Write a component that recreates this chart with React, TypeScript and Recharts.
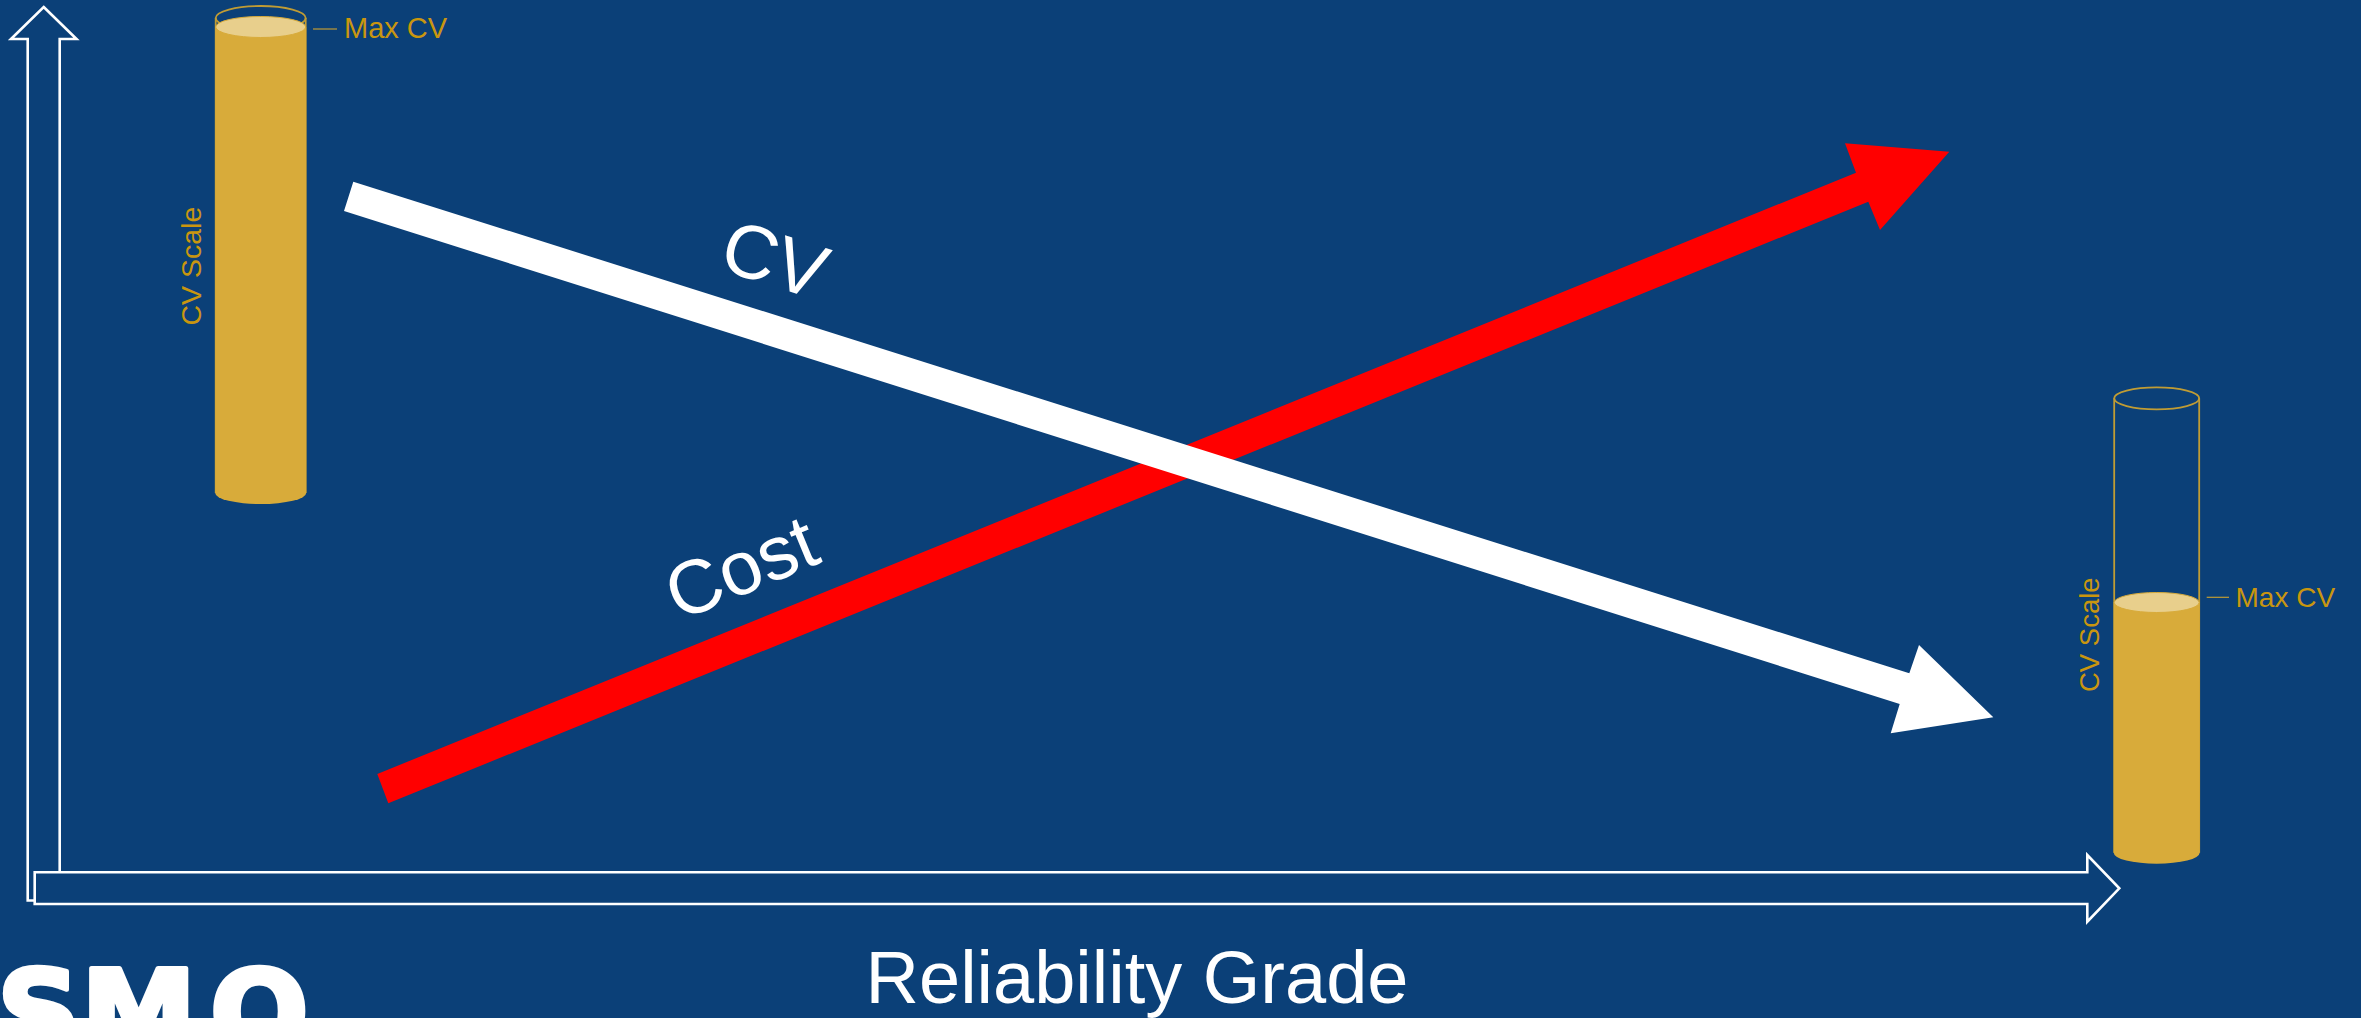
import { ComposedChart, Scatter, XAxis, YAxis } from 'recharts';

const WIDTH = 2361;
const HEIGHT = 1018;
const NAVY = '#0b4078';
const GOLD_TEXT = '#c9960f';
const GOLD_FILL = '#d8ab3a';
const GOLD_LIGHT = '#e8cf8c';
const GOLD_LINE = '#c09c34';

// outlines are listed point by point, in axis units
const yAxisArrow = [
  { x: 43.7, y: 7 }, { x: 76.5, y: 39 }, { x: 59.7, y: 39 }, { x: 59.7, y: 900.5 },
  { x: 27.7, y: 900.5 }, { x: 27.7, y: 39 }, { x: 11, y: 39 },
];
const xAxisArrow = [
  { x: 34.7, y: 872.3 }, { x: 2087.3, y: 872.3 }, { x: 2087.3, y: 855 }, { x: 2119.3, y: 888.3 },
  { x: 2087.3, y: 921.7 }, { x: 2087.3, y: 904 }, { x: 34.7, y: 904 },
];
const costArrow = [
  { x: 377.3, y: 774 }, { x: 1856, y: 172.7 }, { x: 1845, y: 143.3 }, { x: 1949.3, y: 151.7 },
  { x: 1880, y: 230 }, { x: 1868.3, y: 201.7 }, { x: 388.3, y: 803.3 },
];
const cvArrow = [
  { x: 353.3, y: 181.7 }, { x: 1909.3, y: 673.3 }, { x: 1919, y: 645 }, { x: 1993.3, y: 717.3 },
  { x: 1890.7, y: 733.3 }, { x: 1899.7, y: 704 }, { x: 344, y: 211 },
];

// each tube: rim, liquid level, base centre
const leftTube = [{ x: 260.7, y: 18 }, { x: 260.7, y: 27 }, { x: 260.7, y: 493 }];
const rightTube = [{ x: 2156.7, y: 398.3 }, { x: 2156.7, y: 602.5 }, { x: 2156.7, y: 852.7 }];

const leftTick = [{ x: 313, y: 29 }, { x: 337, y: 29 }];
const rightTick = [{ x: 2206.7, y: 597.3 }, { x: 2229, y: 597.3 }];

const leftMaxLabel = [{ x: 344, y: 38, text: 'Max CV' }];
const rightMaxLabel = [{ x: 2235.5, y: 606.7, text: 'Max CV' }];
const leftScaleLabel = [{ x: 200.5, y: 325.5, text: 'CV Scale' }];
const rightScaleLabel = [{ x: 2098.5, y: 692, text: 'CV Scale' }];
const trendLabels = [
  { x: 775, y: 259, text: 'CV', angle: 17.5 },
  { x: 741, y: 567, text: 'Cost', angle: -22.5 },
];
const gradeLabel = [{ x: 1137, y: 1003, text: 'Reliability Grade' }];
const logoLetters = [
  { x: -3, y: 1053, text: 'S' },
  { x: 81, y: 1053, text: 'M' },
  { x: 210, y: 1053, text: 'O' },
];

const sans = '"Liberation Sans", Arial, sans-serif';
const noMarker = () => <g />;

const outline = (fill: string, stroke: string, strokeWidth: number) => (props: any) => (
  <polygon
    points={props.points.map((p: any) => `${p.x},${p.y}`).join(' ')}
    fill={fill}
    stroke={stroke}
    strokeWidth={strokeWidth}
  />
);

const tickLine = (props: any) => (
  <line
    x1={props.points[0].x}
    y1={props.points[0].y}
    x2={props.points[1].x}
    y2={props.points[1].y}
    stroke={GOLD_LINE}
    strokeWidth={1.2}
  />
);

const tube = (rx: number, rimRy: number, levelRy: number) => (props: any) => {
  const [rim, level, base] = props.points;
  const left = rim.x - rx;
  const right = rim.x + rx;
  const r = rx + 0.5;
  return (
    <g>
      <path
        d={`M${left} ${rim.y}V${base.y}M${right} ${rim.y}V${base.y}`}
        fill="none"
        stroke={GOLD_LINE}
        strokeWidth={1.8}
      />
      <ellipse cx={rim.x} cy={rim.y} rx={rx} ry={rimRy} fill="none" stroke={GOLD_LINE} strokeWidth={1.8} />
      <path
        d={`M${rim.x - r} ${level.y}V${base.y}A${r} 11 0 0 0 ${rim.x + r} ${base.y}V${level.y}Z`}
        fill={GOLD_FILL}
      />
      <ellipse cx={level.x} cy={level.y} rx={rx} ry={levelRy} fill={GOLD_LIGHT} stroke={GOLD_FILL} strokeWidth={1} />
    </g>
  );
};

const maxLabel = (fontSize: number) => ({ cx, cy, payload }: any) => (
  <text x={cx} y={cy} fill={GOLD_TEXT} fontFamily={sans} fontSize={fontSize}>
    {payload.text}
  </text>
);

const scaleLabel = (fontSize: number) => ({ cx, cy, payload }: any) => (
  <text x={cx} y={cy} fill={GOLD_TEXT} fontFamily={sans} fontSize={fontSize} transform={`rotate(-90 ${cx} ${cy})`}>
    {payload.text}
  </text>
);

const trendLabel = ({ cx, cy, payload }: any) => (
  <text
    transform={`translate(${cx} ${cy}) rotate(${payload.angle})`}
    fill="#ffffff"
    fontFamily={sans}
    fontSize={76}
    textAnchor="middle"
    dominantBaseline="central"
  >
    {payload.text}
  </text>
);

const gradeText = ({ cx, cy, payload }: any) => (
  <text x={cx} y={cy} fill="#ffffff" fontFamily={sans} fontSize={74} textAnchor="middle">
    {payload.text}
  </text>
);

const logoText = ({ cx, cy, payload }: any) => (
  <text
    x={cx}
    y={cy}
    fill="#ffffff"
    stroke="#ffffff"
    strokeWidth={5}
    strokeLinejoin="round"
    fontFamily='"DejaVu Sans", sans-serif'
    fontWeight={700}
    fontSize={116}
  >
    {payload.text}
  </text>
);

export default function App() {
  return (
    <div style={{ position: 'absolute', left: 0, top: 0, width: WIDTH, height: HEIGHT, background: NAVY, overflow: 'hidden' }}>
      <ComposedChart width={WIDTH} height={HEIGHT} margin={{ top: 0, right: 0, bottom: 0, left: 0 }}>
        <XAxis type="number" dataKey="x" domain={[0, WIDTH]} allowDataOverflow hide />
        <YAxis type="number" dataKey="y" domain={[0, HEIGHT]} reversed allowDataOverflow hide />

        <Scatter data={yAxisArrow} line={outline(NAVY, '#ffffff', 2.6)} shape={noMarker} isAnimationActive={false} />
        <Scatter data={xAxisArrow} line={outline(NAVY, '#ffffff', 2.6)} shape={noMarker} isAnimationActive={false} />

        <Scatter data={leftTube} line={tube(45, 12, 10.5)} shape={noMarker} isAnimationActive={false} />
        <Scatter data={rightTube} line={tube(42.5, 11, 10)} shape={noMarker} isAnimationActive={false} />
        <Scatter data={leftTick} line={tickLine} shape={noMarker} isAnimationActive={false} />
        <Scatter data={rightTick} line={tickLine} shape={noMarker} isAnimationActive={false} />

        <Scatter data={costArrow} line={outline('#ff0000', 'none', 0)} shape={noMarker} isAnimationActive={false} />
        <Scatter data={cvArrow} line={outline('#ffffff', 'none', 0)} shape={noMarker} isAnimationActive={false} />

        <Scatter data={leftMaxLabel} shape={maxLabel(29)} isAnimationActive={false} />
        <Scatter data={rightMaxLabel} shape={maxLabel(28)} isAnimationActive={false} />
        <Scatter data={leftScaleLabel} shape={scaleLabel(28.5)} isAnimationActive={false} />
        <Scatter data={rightScaleLabel} shape={scaleLabel(27.5)} isAnimationActive={false} />
        <Scatter data={trendLabels} shape={trendLabel} isAnimationActive={false} />
        <Scatter data={gradeLabel} shape={gradeText} isAnimationActive={false} />
        <Scatter data={logoLetters} shape={logoText} isAnimationActive={false} />
      </ComposedChart>
    </div>
  );
}
